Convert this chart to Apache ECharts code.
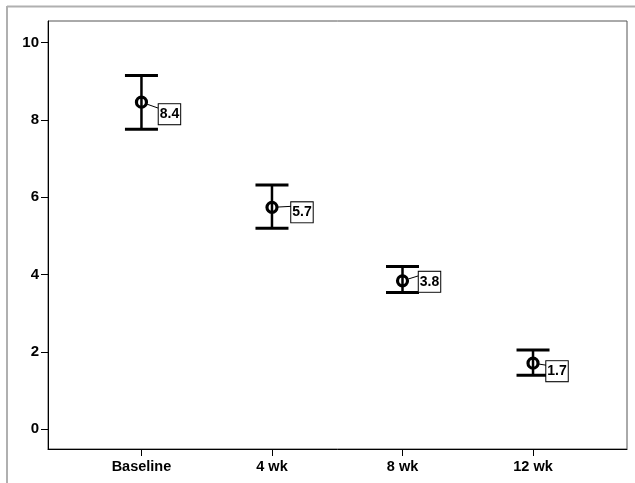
<!DOCTYPE html>
<html>
<head>
<meta charset="utf-8">
<script src="https://cdn.jsdelivr.net/npm/echarts@6/dist/echarts.min.js"></script>
<style>html,body{margin:0;padding:0;background:#fff}#c{width:635px;height:483px}</style>
</head>
<body>
<div id="c"></div>
<script>
const categories = ['Baseline', '4 wk', '8 wk', '12 wk'];
const means = [8.46, 5.74, 3.84, 1.71];
const lowerCI = [7.76, 5.20, 3.54, 1.40];
const upperCI = [9.15, 6.32, 4.21, 2.05];
const meanLabels = ['8.4', '5.7', '3.8', '1.7'];
const yTicks = [0, 2, 4, 6, 8, 10];
// label box offsets (style only, pixels)
const labelOffsets = [[28, 12], [30, 5], [27, 1], [24, 8]];

const chart = echarts.init(document.getElementById('c'));
const data = categories.map((c, i) => [i, means[i], lowerCI[i], upperCI[i]]);
const FONT = '"Liberation Sans", Arial, sans-serif';

chart.setOption({
  animation: false,
  backgroundColor: '#fff',
  graphic: [
    { type: 'line', shape: { x1: 7, y1: 6.5, x2: 635, y2: 6.5 }, style: { stroke: '#b0b0b0', lineWidth: 2 } },
    { type: 'line', shape: { x1: 7, y1: 6, x2: 7, y2: 483 }, style: { stroke: '#b0b0b0', lineWidth: 2 } }
  ],
  grid: { left: 48, right: 8, top: 21, bottom: 34, show: true, borderColor: '#555', borderWidth: 1 },
  xAxis: {
    type: 'value', min: -0.716, max: 3.72,
    axisLine: { show: true, onZero: false, lineStyle: { color: '#000', width: 1 } },
    axisTick: { show: true, customValues: [0, 1, 2, 3], length: 7, lineStyle: { color: '#000' } },
    axisLabel: { customValues: [0, 1, 2, 3], formatter: v => categories[Math.round(v)], margin: 10,
      color: '#000', fontWeight: 'bold', fontSize: 14.5, fontFamily: FONT },
    splitLine: { show: false }
  },
  yAxis: {
    type: 'value', min: -0.51, max: 10.56,
    axisLine: { show: true, onZero: false, lineStyle: { color: '#000', width: 1 } },
    axisTick: { show: true, customValues: yTicks, length: 7, lineStyle: { color: '#000' } },
    axisLabel: { customValues: yTicks, margin: 9, color: '#000', fontWeight: 'bold', fontSize: 15, fontFamily: FONT },
    splitLine: { show: false }
  },
  series: [{
    type: 'custom',
    data: data,
    encode: { x: 0, y: [1, 2, 3] },
    renderItem: function (params, api) {
      const i = params.dataIndex;
      const x = api.value(0);
      const pm = api.coord([x, api.value(1)]);
      const pl = api.coord([x, api.value(2)]);
      const pu = api.coord([x, api.value(3)]);
      const hw = 16.5;
      const off = labelOffsets[i];
      const bx = pm[0] + off[0], by = pm[1] + off[1];
      const r = 5;
      const lx = bx - 11, ly = by - 6;
      const dx = lx - pm[0], dy = ly - pm[1];
      const d = Math.sqrt(dx * dx + dy * dy) || 1;
      return {
        type: 'group',
        children: [
          { type: 'line', shape: { x1: pm[0], y1: pu[1], x2: pm[0], y2: pl[1] }, style: { stroke: '#000', lineWidth: 2.5 } },
          { type: 'line', shape: { x1: pm[0] - hw, y1: pu[1], x2: pm[0] + hw, y2: pu[1] }, style: { stroke: '#000', lineWidth: 3 } },
          { type: 'line', shape: { x1: pm[0] - hw, y1: pl[1], x2: pm[0] + hw, y2: pl[1] }, style: { stroke: '#000', lineWidth: 3 } },
          { type: 'line', shape: { x1: pm[0] + dx / d * (r + 1), y1: pm[1] + dy / d * (r + 1), x2: lx, y2: ly }, style: { stroke: '#000', lineWidth: 1 } },
          { type: 'circle', shape: { cx: pm[0], cy: pm[1], r: r }, style: { fill: 'none', stroke: '#000', lineWidth: 3.2 } },
          { type: 'text', x: bx, y: by, style: {
              text: meanLabels[i], align: 'center', verticalAlign: 'middle',
              font: 'bold 14px ' + FONT, fill: '#000',
              backgroundColor: '#fff', borderColor: '#000', borderWidth: 1, padding: [3, 1, 3, 1]
            } }
        ]
      };
    }
  }]
});
</script>
</body>
</html>
